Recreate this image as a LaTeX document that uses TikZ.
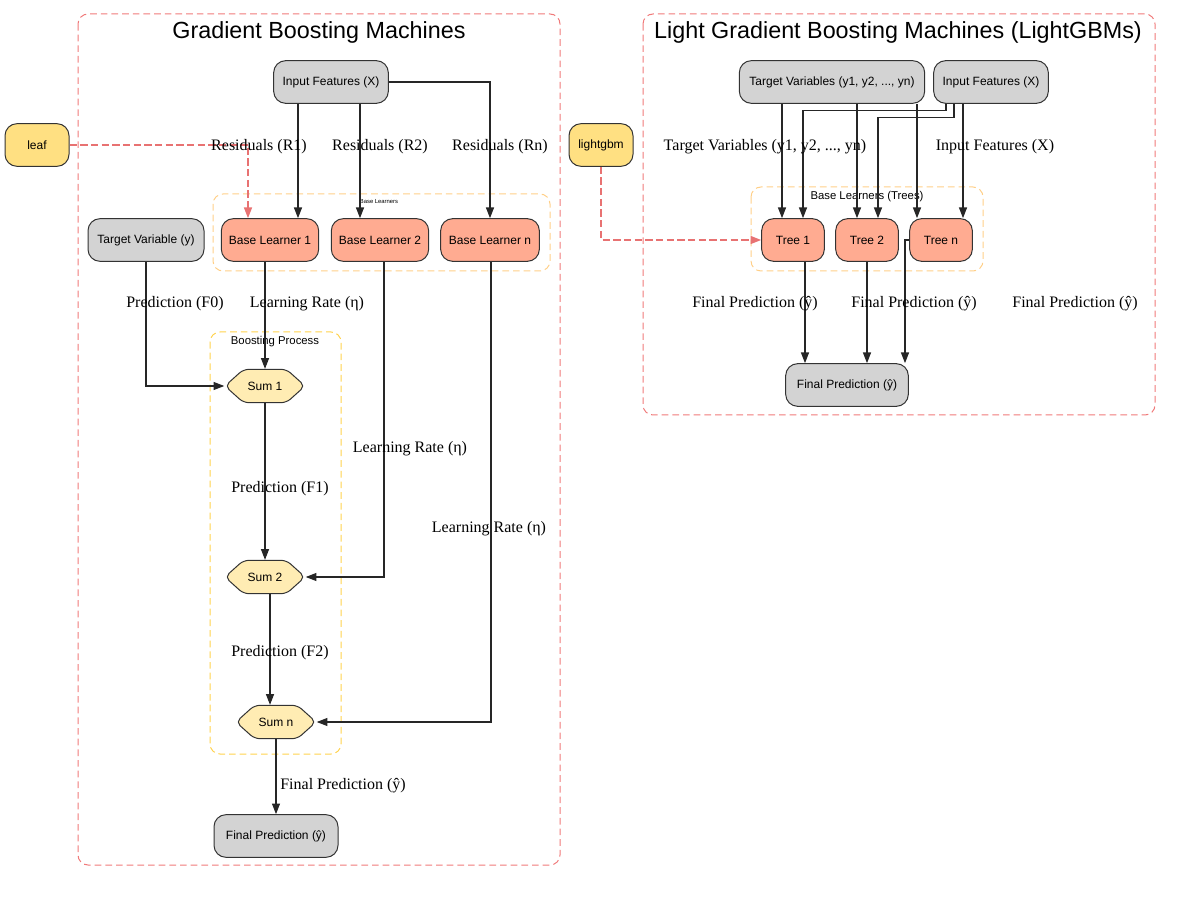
\documentclass[tikz,border=0pt]{standalone}
\usepackage{fontspec}
\setmainfont{Liberation Serif}
\setsansfont{Liberation Sans}
\usetikzlibrary{arrows.meta,shapes.symbols}

\definecolor{clred}{HTML}{F07A7A}
\definecolor{clorange}{HTML}{FFCF88}
\definecolor{clyellow}{HTML}{FFD24D}
\definecolor{boxgray}{HTML}{D3D3D3}
\definecolor{learnfill}{HTML}{FFAB91}
\definecolor{modelfill}{HTML}{FFE082}
\definecolor{sumfill}{HTML}{FFECB3}
\definecolor{linkred}{HTML}{E87272}

\tikzset{
  box/.style={draw=black!80, line width=0.75pt, rounded corners=9pt,
    minimum height=32pt, font=\sffamily\fontsize{9}{10}\selectfont},
  graybox/.style={box, fill=boxgray},
  learnbox/.style={box, fill=learnfill},
  modelbox/.style={box, fill=modelfill, minimum width=48pt},
  sumnode/.style={draw=black!80, line width=0.75pt, fill=sumfill,
    shape=signal, signal to=east and west, signal pointer angle=84,
    rounded corners=4pt, minimum width=60pt, minimum height=25pt,
    inner sep=1pt, font=\sffamily\fontsize{9}{10}\selectfont},
  cluster/.style={dashed, dash pattern=on 5pt off 3pt, line width=0.75pt, rounded corners=7.5pt},
  edge/.style={draw=black!85, line width=0.8pt, -{Triangle[length=8pt,width=6pt]}},
  dedge/.style={draw=linkred, line width=1pt, dash pattern=on 5.5pt off 2.5pt,
    -{Triangle[length=8pt,width=6pt,fill=linkred]}},
  elabel/.style={font=\fontsize{12}{14}\selectfont, inner sep=0pt, yshift=-1.5pt},
  cltitle/.style={font=\sffamily\fontsize{17.5}{20}\selectfont, inner sep=0pt},
  cllabel/.style={font=\sffamily\fontsize{8.5}{10}\selectfont, inner sep=0pt}
}

\begin{document}
\begin{tikzpicture}[x=0.75pt, y=-0.75pt]
  \useasboundingbox (0,0) rectangle (1203,905);

  % clusters
  \draw[cluster, clred] (78,14) rectangle (560,865);
  \draw[cluster, clred] (643,14) rectangle (1155,415);
  \draw[cluster, clorange] (213,194) rectangle (550,271);
  \draw[cluster, clyellow] (210,332) rectangle (341,754);
  \draw[cluster, clorange] (751,187) rectangle (983,271);

  \node[cltitle] (gbmtitle) at (319,32) {Gradient Boosting Machines};
  \node[cltitle] (lgbtitle) at (898,32) {Light Gradient Boosting Machines (LightGBMs)};
  \node[font=\sffamily\fontsize{4.4}{5}\selectfont, inner sep=0pt] (bltitle) at (379,202) {Base Learners};
  \node[cllabel] (bptitle) at (275,342) {Boosting Process};
  \node[cllabel] (trtitle) at (867,197) {Base Learners (Trees)};

  % gradient boosting
  \node[graybox, minimum width=86pt] (inp) at (331,82) {Input Features (X)};
  \node[modelbox] (leaf) at (37,145) {leaf};
  \node[graybox, minimum width=87pt] (tv) at (146,240) {Target Variable (y)};
  \node[learnbox, minimum width=73pt] (bl1) at (270,240) {Base Learner 1};
  \node[learnbox, minimum width=73pt] (bl2) at (380,240) {Base Learner 2};
  \node[learnbox, minimum width=74pt] (bln) at (490,240) {Base Learner n};
  \node[sumnode] (sum1) at (265,386) {Sum 1};
  \node[sumnode] (sum2) at (265,577) {Sum 2};
  \node[sumnode] (sumn) at (276,722) {Sum n};
  \node[graybox, minimum width=93pt] (finL) at (276,836) {Final Prediction (ŷ)};

  \draw[edge] (inp.south -| 298,0) -- (bl1.north -| 298,0);
  \draw[edge] (inp.south -| 360,0) -- (bl2.north -| 360,0);
  \draw[edge] (inp.east) -| (bln.north);
  \draw[dedge] (leaf.east) -| (bl1.north -| 248,0);
  \draw[edge] (tv.south) |- (sum1.west);
  \draw[edge] (bl1.south -| 265,0) -- (sum1.north);
  \draw[edge] (bl2.south -| 384,0) |- (sum2.east);
  \draw[edge] (bln.south -| 491,0) |- (sumn.east);
  \draw[edge] (sum1.south) -- (sum2.north);
  \draw[edge] (sum2.south -| 270,0) -- (sumn.north -| 270,0);
  \draw[edge] (sumn.south) -- (finL.north);

  \node[elabel] (lr1) at (259,145) {Residuals (R1)};
  \node[elabel] (lr2) at (380,145) {Residuals (R2)};
  \node[elabel] (lrn) at (500,145) {Residuals (Rn)};
  \node[elabel] (lf0) at (175,302) {Prediction (F0)};
  \node[elabel] (llr1) at (307,302) {Learning Rate (η)};
  \node[elabel] (llr2) at (410,447) {Learning Rate (η)};
  \node[elabel] (llrn) at (489,527) {Learning Rate (η)};
  \node[elabel] (lf1) at (280,487) {Prediction (F1)};
  \node[elabel] (lf2) at (280,651) {Prediction (F2)};
  \node[elabel] (lfin) at (343,784) {Final Prediction (ŷ)};

  % lightgbm
  \node[graybox, minimum width=139pt] (tvs) at (832,82) {Target Variables (y1, y2, ..., yn)};
  \node[graybox, minimum width=86pt] (inR) at (991,82) {Input Features (X)};
  \node[modelbox] (lgb) at (601,145) {lightgbm};
  \node[learnbox, minimum width=47pt] (t1) at (793,240) {Tree 1};
  \node[learnbox, minimum width=47pt] (t2) at (867,240) {Tree 2};
  \node[learnbox, minimum width=47pt] (tn) at (941,240) {Tree n};
  \node[graybox, minimum width=92pt] (finR) at (847,385) {Final Prediction (ŷ)};

  \draw[edge] (tvs.south -| 782,0) -- (t1.north -| 782,0);
  \draw[edge] (tvs.south -| 857,0) -- (t2.north -| 857,0);
  \draw[edge] (tvs.south -| 917,0) -- (tn.north -| 917,0);
  \draw[edge] (inR.south -| 946,0) -- ++(0,7) -| (t1.north -| 803,0);
  \draw[edge] (inR.south -| 954,0) -- ++(0,14) -| (t2.north -| 878,0);
  \draw[edge] (inR.south -| 963,0) -- (tn.north -| 963,0);
  \draw[dedge] (lgb.south) |- (t1.west);
  \draw[edge] (t1.south -| 805,0) -- (finR.north -| 805,0);
  \draw[edge] (t2.south) -- (finR.north -| 867,0);
  \draw[edge] (tn.west) -| (finR.north -| 905,0);

  \node[elabel] (ltv) at (765,145) {Target Variables (y1, y2, ..., yn)};
  \node[elabel] (lin) at (995,145) {Input Features (X)};
  \node[elabel] (lt1) at (755,302) {Final Prediction (ŷ)};
  \node[elabel] (lt2) at (914,302) {Final Prediction (ŷ)};
  \node[elabel] (ltn) at (1075,302) {Final Prediction (ŷ)};
\end{tikzpicture}
\end{document}
